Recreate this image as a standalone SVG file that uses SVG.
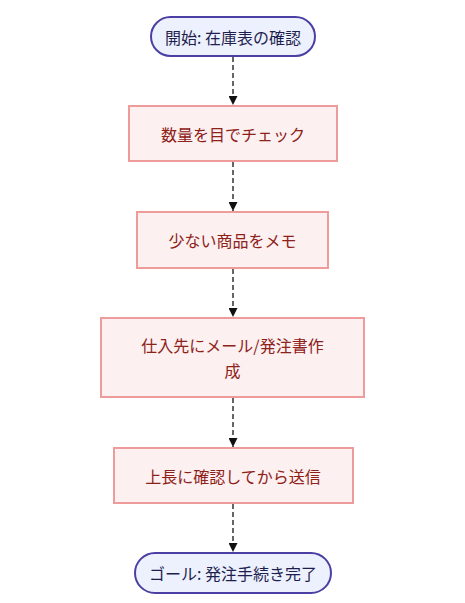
<svg xmlns="http://www.w3.org/2000/svg" width="465" height="603" viewBox="0 0 465 603">
<style>
.term rect{fill:#EDF1FE;stroke:#4B3FA3;stroke-width:2}
.term text{fill:#1F1F4F}
.proc rect{fill:#FCF0F0;stroke:#EE9B9B;stroke-width:2}
.proc text{fill:#8E2118}
text{font-family:"Noto Sans CJK JP","Noto Sans",sans-serif;font-size:16px;text-anchor:middle;dominant-baseline:central}
.edge{stroke:#333;stroke-width:1.5;stroke-dasharray:5 3;fill:none}
</style>
<defs>
<marker id="ah" viewBox="0 0 10 10" refX="10" refY="5" markerWidth="9" markerHeight="9" markerUnits="userSpaceOnUse" orient="auto">
<path d="M0,0L10,5L0,10z" fill="#111"/>
</marker>
</defs>
<rect width="465" height="603" fill="#fff"/>
<g id="connectors">
<line class="edge" x1="233" y1="57" x2="233" y2="105" marker-end="url(#ah)"/>
<line class="edge" x1="233" y1="162" x2="233" y2="211" marker-end="url(#ah)"/>
<line class="edge" x1="233" y1="269" x2="233" y2="317" marker-end="url(#ah)"/>
<line class="edge" x1="233" y1="398" x2="233" y2="447" marker-end="url(#ah)"/>
<line class="edge" x1="233" y1="504" x2="233" y2="552" marker-end="url(#ah)"/>
</g>
<g id="start" class="term">
<rect x="151" y="17" width="164" height="39" rx="19.5"/>
<text x="233" y="36.5">開始: 在庫表の確認</text>
</g>
<g id="check" class="proc">
<rect x="129" y="106" width="208" height="55"/>
<text x="233" y="133.5">数量を目でチェック</text>
</g>
<g id="memo" class="proc">
<rect x="137" y="212" width="191" height="56"/>
<text x="232.5" y="240">少ない商品をメモ</text>
</g>
<g id="order" class="proc">
<rect x="101" y="318" width="263" height="79"/>
<text x="232.5" y="345">仕入先にメール/発注書作</text>
<text x="232.5" y="370">成</text>
</g>
<g id="confirm" class="proc">
<rect x="114" y="448" width="239" height="55"/>
<text x="233" y="475.5">上長に確認してから送信</text>
</g>
<g id="end" class="term">
<rect x="135" y="553" width="196" height="40" rx="20"/>
<text x="233" y="573">ゴール: 発注手続き完了</text>
</g>
</svg>
